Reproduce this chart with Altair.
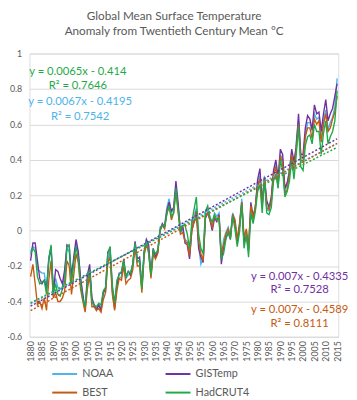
import altair as alt
import pandas as pd

years = list(range(1880, 2016))
series_names = ["NOAA", "GISTemp", "BEST", "HadCRUT4"]
series_colors = ["#4DB4EA", "#7030A0", "#C55A11", "#1FAA4A"]

noaa = [
    -0.12, -0.09, -0.10, -0.22, -0.23, -0.24, -0.24, -0.33, -0.15, -0.10,
    -0.35, -0.27, -0.32, -0.33, -0.32, -0.25, -0.10, -0.12, -0.27, -0.17,
    -0.07, -0.14, -0.27, -0.38, -0.44, -0.30, -0.22, -0.40, -0.43, -0.44,
    -0.42, -0.44, -0.35, -0.34, -0.17, -0.12, -0.32, -0.41, -0.30, -0.27,
    -0.26, -0.18, -0.27, -0.25, -0.25, -0.18, -0.07, -0.18, -0.17, -0.32,
    -0.12, -0.05, -0.12, -0.26, -0.11, -0.15, -0.12, 0.02, 0.03, 0.03,
    0.13, 0.18, 0.10, 0.12, 0.25, 0.13, -0.01, 0.01, -0.05, -0.06,
    -0.14, 0.02, 0.08, 0.13, -0.08, -0.19, -0.16, 0.10, 0.12, 0.08,
    0.04, 0.10, 0.08, 0.10, -0.16, -0.05, -0.01, 0.02, -0.03, 0.10,
    0.06, -0.05, 0.03, 0.18, -0.05, 0.00, -0.10, 0.10, 0.06, 0.14,
    0.28, 0.31, 0.17, 0.31, 0.12, 0.11, 0.16, 0.33, 0.37, 0.24,
    0.43, 0.40, 0.22, 0.26, 0.35, 0.44, 0.34, 0.50, 0.62, 0.42,
    0.41, 0.54, 0.61, 0.61, 0.56, 0.66, 0.63, 0.64, 0.52, 0.62,
    0.68, 0.57, 0.61, 0.64, 0.70, 0.86,
]
gistemp = [
    -0.17, -0.07, -0.07, -0.17, -0.27, -0.30, -0.28, -0.33, -0.17, -0.09,
    -0.35, -0.22, -0.23, -0.27, -0.30, -0.22, -0.08, -0.09, -0.26, -0.15,
    -0.05, -0.12, -0.27, -0.36, -0.45, -0.25, -0.19, -0.38, -0.42, -0.45,
    -0.42, -0.45, -0.35, -0.33, -0.12, -0.10, -0.34, -0.44, -0.31, -0.24,
    -0.24, -0.16, -0.26, -0.23, -0.25, -0.19, -0.06, -0.16, -0.15, -0.33,
    -0.12, -0.05, -0.08, -0.25, -0.10, -0.15, -0.12, 0.00, 0.04, 0.02,
    0.11, 0.16, 0.11, 0.13, 0.28, 0.15, -0.01, 0.03, -0.07, -0.08,
    -0.16, 0.00, 0.05, 0.11, -0.10, -0.15, -0.18, 0.07, 0.10, 0.06,
    0.00, 0.07, 0.05, 0.09, -0.19, -0.09, -0.04, -0.01, -0.05, 0.09,
    0.04, -0.07, 0.02, 0.16, -0.07, -0.03, -0.11, 0.16, 0.08, 0.13,
    0.29, 0.35, 0.15, 0.30, 0.17, 0.13, 0.19, 0.34, 0.40, 0.30,
    0.46, 0.43, 0.24, 0.27, 0.33, 0.46, 0.39, 0.47, 0.66, 0.43,
    0.43, 0.58, 0.65, 0.63, 0.57, 0.71, 0.66, 0.67, 0.56, 0.66,
    0.74, 0.62, 0.66, 0.69, 0.76, 0.83,
]
best = [
    -0.26, -0.19, -0.30, -0.42, -0.40, -0.44, -0.38, -0.45, -0.28, -0.17,
    -0.38, -0.35, -0.40, -0.40, -0.38, -0.34, -0.17, -0.20, -0.36, -0.25,
    -0.13, -0.18, -0.33, -0.40, -0.46, -0.33, -0.25, -0.43, -0.43, -0.45,
    -0.44, -0.46, -0.39, -0.35, -0.18, -0.15, -0.36, -0.45, -0.34, -0.27,
    -0.28, -0.20, -0.30, -0.28, -0.27, -0.22, -0.09, -0.20, -0.20, -0.35,
    -0.14, -0.08, -0.12, -0.27, -0.13, -0.16, -0.13, 0.00, 0.03, 0.01,
    0.10, 0.14, 0.06, 0.10, 0.22, 0.10, -0.02, -0.01, -0.06, -0.07,
    -0.14, 0.00, 0.05, 0.11, -0.06, -0.13, -0.17, 0.08, 0.10, 0.06,
    0.02, 0.08, 0.06, 0.08, -0.14, -0.08, -0.02, 0.01, -0.04, 0.09,
    0.06, -0.05, 0.04, 0.16, -0.04, 0.01, -0.09, 0.14, 0.07, 0.14,
    0.25, 0.29, 0.14, 0.30, 0.13, 0.12, 0.17, 0.31, 0.36, 0.26,
    0.42, 0.38, 0.21, 0.23, 0.32, 0.43, 0.35, 0.46, 0.60, 0.40,
    0.39, 0.53, 0.58, 0.58, 0.52, 0.63, 0.60, 0.62, 0.50, 0.60,
    0.66, 0.56, 0.58, 0.63, 0.67, 0.76,
]
hadcrut4 = [
    -0.13, -0.10, -0.12, -0.26, -0.30, -0.29, -0.28, -0.36, -0.16, -0.08,
    -0.36, -0.30, -0.36, -0.37, -0.33, -0.29, -0.09, -0.08, -0.30, -0.18,
    -0.09, -0.16, -0.30, -0.39, -0.43, -0.29, -0.22, -0.40, -0.42, -0.43,
    -0.41, -0.42, -0.34, -0.32, -0.13, -0.09, -0.31, -0.41, -0.28, -0.25,
    -0.23, -0.17, -0.26, -0.23, -0.24, -0.19, -0.07, -0.17, -0.17, -0.33,
    -0.12, -0.06, -0.13, -0.25, -0.11, -0.13, -0.11, 0.00, 0.03, 0.02,
    0.09, 0.14, 0.08, 0.10, 0.24, 0.11, 0.00, 0.03, 0.03, -0.02,
    -0.10, 0.05, 0.12, 0.19, -0.02, -0.10, -0.13, 0.11, 0.14, 0.07,
    0.05, 0.09, 0.06, 0.07, -0.16, -0.13, -0.05, -0.01, -0.04, 0.08,
    0.01, -0.09, -0.01, 0.15, -0.10, -0.02, -0.15, 0.10, 0.04, 0.11,
    0.22, 0.26, 0.10, 0.29, 0.10, 0.09, 0.13, 0.28, 0.32, 0.24,
    0.40, 0.34, 0.19, 0.22, 0.28, 0.40, 0.29, 0.43, 0.59, 0.36,
    0.34, 0.48, 0.53, 0.54, 0.49, 0.60, 0.56, 0.56, 0.43, 0.55,
    0.62, 0.49, 0.53, 0.56, 0.62, 0.79,
]

# Trend-line fits shown on the chart (x = year index, 1880 -> 1)
slopes = [0.0067, 0.007, 0.007, 0.0065]
intercepts = [-0.4195, -0.4335, -0.4589, -0.414]
r_squared = ["0.7542", "0.7528", "0.8111", "0.7646"]

title_lines = ["Global Mean Surface Temperature", "Anomaly from Twentieth Century Mean \u00b0C"]
y_ticks = [-0.6, -0.4, -0.2, 0, 0.2, 0.4, 0.6, 0.8, 1.0]
x_ticks = list(range(1880, 2016, 5))

# annotation anchor points (data coordinates)
eq_year = [1901.8, 1998.5, 1998.5, 1900.8]
eq_val = [0.724, -0.263, -0.451, 0.895]
r2_val = [0.641, -0.335, -0.528, 0.818]

all_values = [noaa, gistemp, best, hadcrut4]
rows = []
for name, vals in zip(series_names, all_values):
    for yr, v in zip(years, vals):
        rows.append({"series": name, "year": yr, "value": v})
df = pd.DataFrame(rows)

trend_rows = []
for name, s, b in zip(series_names, slopes, intercepts):
    for yr in (years[0], years[-1]):
        trend_rows.append({"series": name, "year": yr, "slope": s, "intercept": b})
trend_df = pd.DataFrame(trend_rows)

label_rows = []
for name, s, b, r2, xe, ye, yr2 in zip(series_names, slopes, intercepts, r_squared, eq_year, eq_val, r2_val):
    label_rows.append({"series": name, "text": f"y = {s}x - {abs(b)}", "year": xe, "value": ye})
    label_rows.append({"series": name, "text": f"R\u00b2 = {r2}", "year": xe, "value": yr2})
label_df = pd.DataFrame(label_rows)

FONT = "Lato"
GREY = "#595959"

xscale = alt.Scale(domain=[1879.5, 2015.5], nice=False, zero=False)
yscale = alt.Scale(domain=[-0.6, 1.0], nice=False)
cscale = alt.Scale(domain=series_names, range=series_colors)

x_enc = alt.X("year:Q", scale=xscale,
              axis=alt.Axis(values=x_ticks, format="d", labelAngle=270, labelAlign="right",
                            labelBaseline="middle", labelFontSize=9, labelColor=GREY, labelFont=FONT,
                            ticks=False, grid=False, domainColor="#D9D9D9", labelPadding=4,
                            labelOverlap=False, labelFlush=False),
              title=None)
y_enc = alt.Y("value:Q", scale=yscale,
              axis=alt.Axis(values=y_ticks, labelExpr="replace(format(datum.value, '~g'), '\u2212', '-')",
                            labelFontSize=9, labelColor=GREY, labelFont=FONT, ticks=False, domain=False,
                            grid=True, gridColor="#D9D9D9", labelPadding=8, labelOverlap=False),
              title=None)

lines = alt.Chart(df).mark_line(strokeWidth=1.4).encode(
    x=x_enc, y=y_enc,
    color=alt.Color("series:N", scale=cscale, sort=series_names,
                    legend=alt.Legend(title=None, orient="none", legendX=22, legendY=314, columns=2,
                                      direction="horizontal",
                                      columnPadding=49, rowPadding=0, symbolType="stroke",
                                      symbolSize=650, symbolStrokeWidth=2, labelFontSize=11,
                                      labelColor=GREY, labelFont=FONT, labelOffset=4)),
    order=alt.Order("year:Q"),
    detail="series:N",
)

trend = alt.Chart(trend_df).transform_calculate(
    value="datum.slope * (datum.year - 1879) + datum.intercept"
).mark_line(strokeWidth=1.5, strokeDash=[2, 2]).encode(
    x=x_enc, y=y_enc,
    color=alt.Color("series:N", scale=cscale, legend=None),
    detail="series:N",
)

labels = alt.Chart(label_df).mark_text(font=FONT, fontSize=11.5, align="center", baseline="middle").encode(
    x=x_enc, y=y_enc,
    text="text:N",
    color=alt.Color("series:N", scale=cscale, legend=None),
)

chart = alt.layer(lines, trend, labels).properties(
    width=316, height=290,
    title=alt.TitleParams(text=title_lines, font=FONT, fontSize=12, fontWeight="normal", color=GREY,
                          anchor="middle", dx=-10, offset=12, lineHeight=15),
    autosize=alt.AutoSizeParams(type="none"),
    padding={"left": 22, "top": 42, "right": 11, "bottom": 60},
).configure_view(stroke=None).configure(background="white")

chart.save("out.html", embed_options={"renderer": "svg", "actions": False})
